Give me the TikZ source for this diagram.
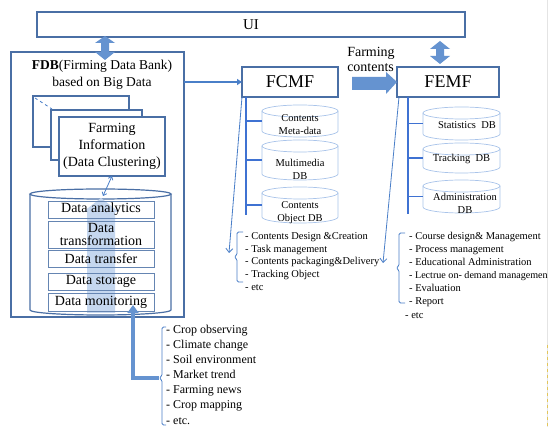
\documentclass[tikz,border=0pt]{standalone}
\usepackage{fontspec}
\setmainfont{Liberation Serif}
\usetikzlibrary{arrows.meta,calc}
\definecolor{boxcol}{HTML}{4A6FA5}
\definecolor{blockcol}{HTML}{6593D0}
\definecolor{palecol}{HTML}{C5D7EF}
\definecolor{colcol}{HTML}{3F72D2}
\definecolor{cylcol}{HTML}{A9C4EA}
\definecolor{thincol}{HTML}{4A7FC8}
\definecolor{edgecol}{HTML}{E4E4E4}
\definecolor{dashcol}{HTML}{E2C65A}
% cylinder outline drawn around an (empty) body node: sides, bottom half, top ellipse
\newcommand\cylaround[4][]{%
  \draw[#1] (#2.north west) -- (#2.south west)
     arc[start angle=180,end angle=0,x radius=#3,y radius=#4] -- (#2.north east);
  \draw[#1] (#2.north) ellipse[x radius=#3,y radius=#4];
}
\begin{document}
\begin{tikzpicture}[x=1pt,y=-1pt,
  frame/.style={draw=boxcol,line width=1.2pt,fill=white,inner sep=0pt,outer sep=0pt},
  fs/.style 2 args={font=\fontsize{#1}{#2}\selectfont},
  databox/.style={draw=boxcol!85,line width=.8pt,minimum width=106pt,inner sep=0pt,outer sep=0pt,fs={14}{13}},
  body/.style={inner sep=0pt,outer sep=0pt},
  cyl/.style={draw=cylcol,line width=.7pt},
  cyllabel/.style={align=center,inner sep=0pt,fs={10.5}{13}},
  colline/.style={draw=colcol,line width=1.3pt},
  conn/.style={draw=thincol,line width=1.4pt,-{Triangle[length=5pt,width=6pt]}},
  thinconn/.style={draw=thincol,line width=.8pt},
  brk/.style={draw=thincol,line width=.8pt,rounded corners=1.5pt},
  listtxt/.style={anchor=base west,inner sep=0pt},
  block/.style={fill=blockcol},
]
\useasboundingbox (0,0) rectangle (549,427);
\fill[white] (0,0) rectangle (549,427);

% page edge rules
\draw[edgecol,line width=.8pt] (547,0) -- (547,427);
\draw[dashcol,dashed,line width=.6pt] (547,345) -- (547,427);

% user interface bar
\node[frame,minimum width=428pt,minimum height=25pt,fs={15}{18}] (ui) at (251,24.5) {UI};

% ---------------- FDB ----------------
\node[frame,line width=2pt,minimum width=173pt,minimum height=265pt] (fdb) at (97.5,184.5) {};
\node[align=center,inner sep=0pt,fs={13.5}{17}] (fdbtitle) at (102,75) {\textbf{FDB}(Firming Data Bank)\\based on Big Data};

% stacked information pages
\node[frame,minimum width=96pt,minimum height=51pt] (page3) at (81,121.5) {};
\node[frame,minimum width=91pt,minimum height=50pt] (page2) at (96.5,135) {};
\draw[thinconn,dashed] ($(page3.north west)+(2,2)$) -- ($(page2.north west)+(1,-1)$);
\node[frame,minimum width=106pt,minimum height=59pt,align=center,fs={14}{17}] (page1) at (112,146.5)
  {Farming\\Information\\(Data Clustering)};

% big data store
\node[body,minimum width=141pt,minimum height=116pt] (store) at (100.5,252) {};
\cylaround[draw=boxcol,line width=1.2pt]{store}{70.5}{5}
\draw[thinconn,{Straight Barb[length=3pt,width=5pt]}-{Straight Barb[length=3pt,width=5pt]}]
  (page1.south) -- ($(store.north)+(2.5,2)$);

% upward data flow
\fill[palecol] (101,198) -- (119,212) -- (115,212) -- (115,313) -- (87,313) -- (87,212) -- (83,212) -- cycle;

\node[databox,minimum height=17pt] (dana) at (101,209.5) {Data analytics};
\node[databox,minimum height=27pt,align=center] (dtrans) at (101,234.5) {Data\\transformation};
\node[databox,minimum height=17pt] (dtransfer) at (101,258.5) {Data transfer};
\node[databox,minimum height=17pt] (dstor) at (101,281.5) {Data storage};
\node[databox,minimum height=18pt] (dmon) at (101,302) {Data monitoring};

% UI <-> FDB
\fill[block] (105,36) -- (115,43) -- (109,43) -- (109,52) -- (115,52) -- (105,60)
  -- (95,52) -- (101,52) -- (101,43) -- (95,43) -- cycle;

% data sources
\foreach \t [count=\i] in {- Crop observing,- Climate change,- Soil environment,- Market trend,
    - Farming news,- Crop mapping,- etc.}
  \node[listtxt,fs={12}{14}] (src\i) at (166,{333.5+15.1*(\i-1)}) {\t};
\draw[brk] (166,327) -- (162,327) -- (162,376) -- (159,378) -- (162,380) -- (162,425) -- (166,425);
\coordinate (srcnub) at (159,378);
\coordinate (montip) at (133,305);
\draw[draw=blockcol,line width=4.5pt,-{Triangle[length=8pt,width=11pt]}] (srcnub) -| (montip);

% ---------------- FCMF ----------------
\node[frame,line width=1.4pt,minimum width=96pt,minimum height=30pt,fs={18}{20}] (fcmf) at (290,82) {FCMF};
\draw[conn] (fdb.east |- fcmf.west) -- (fcmf.west);

\node[body,minimum width=76pt,minimum height=20pt] (cmeta) at (300,121) {};
\node[body,minimum width=76pt,minimum height=28pt] (cmedia) at (300,160) {};
\node[body,minimum width=76pt,minimum height=24pt] (cobj) at (300,205) {};
\cylaround[cyl]{cmeta}{38}{6}
\cylaround[cyl]{cmedia}{38}{6}
\cylaround[cyl]{cobj}{38}{6}
\node[cyllabel] (cmetat) at (300,124.5) {Contents\\Meta-data};
\node[cyllabel] (cmediat) at (300,169.5) {Multimedia\\DB};
\node[cyllabel] (cobjt) at (300,212.5) {Contents\\Object DB};

\coordinate (fcmfcol) at (246,97);
\coordinate (fcmfend) at (246,215);
\draw[colline] (fcmfcol) -- (fcmfend);
\foreach \c in {cmeta,cmedia,cobj}
  \draw[colline] (fcmfcol |- \c.west) -- (\c.west);

\foreach \t [count=\i] in {- Contents Design \&Creation,- Task management,
    - Contents packaging\&Delivery,- Tracking Object,- etc}
  \node[listtxt,fs={10.5}{12}] (cm\i) at (245,{239.5+12.7*(\i-1)}) {\t};
\draw[brk] (243,232) -- (237,232) -- (237,255) -- (234,257) -- (237,259) -- (237,282) -- (243,282);
\coordinate (cmtip) at (229,253);
\draw[thinconn,-{Straight Barb[length=4pt,width=7pt]}] (fcmf.south west) -- (cmtip);

% content hand-over
\node[align=left,inner sep=0pt,fs={14}{15}] (fclabel) at (371,59.5) {Farming\\contents};

% ---------------- FEMF ----------------
\node[frame,line width=1.4pt,minimum width=102pt,minimum height=30pt,fs={18}{20}] (femf) at (448,82) {FEMF};
\fill[block] (352,77) -- (386,77) -- (386,72) -- (femf.west) -- (386,94) -- (386,90) -- (352,90) -- cycle;
\fill[block] (440,41) -- (450,49) -- (444,49) -- (444,56) -- (450,56) -- (440,64)
  -- (430,56) -- (436,56) -- (436,49) -- (430,49) -- cycle;

\node[body,minimum width=77pt,minimum height=21pt] (estat) at (461.5,123.5) {};
\node[body,minimum width=77pt,minimum height=18pt] (etrack) at (461.5,158) {};
\node[body,minimum width=77pt,minimum height=21pt] (eadmin) at (461.5,196.5) {};
\cylaround[cyl]{estat}{38.5}{6}
\cylaround[cyl]{etrack}{38.5}{6}
\cylaround[cyl]{eadmin}{38.5}{6}
\node[cyllabel] (estatt) at (467,125) {Statistics\ \ DB};
\node[cyllabel] (etrackt) at (461.5,159) {Tracking\ \ DB};
\node[cyllabel] (eadmint) at (465,203.5) {Administration\\DB};

\coordinate (femfcol) at (408,97);
\coordinate (femfend) at (408,214);
\draw[colline] (femfcol) -- (femfend);
\foreach \c in {estat,etrack,eadmin}
  \draw[colline] (femfcol |- \c.west) -- (\c.west);

\foreach \t [count=\i] in {- Course design\& Management,- Process management,
    - Educational Administration,- Evaluation,- Report}
  \node[listtxt,fs={10.5}{12}] (em\i) at (409,{239.5+13.1*(\i-1+(\i>3))}) {\t};
\node[listtxt,fs={10.1}{12}] (emlec) at (409,278.8) {- Lectrue on- demand managemen};
\node[listtxt,fs={10.5}{12}] (emetc) at (405,318.5) {- etc};
\draw[brk] (405,233) -- (399,233) -- (399,266) -- (396,268) -- (399,270) -- (399,303) -- (405,303);
\coordinate (emtip) at (383,263);
\draw[thinconn,-{Straight Barb[length=4pt,width=7pt]}] ($(femf.south west)+(2,0)$) -- (emtip);
\end{tikzpicture}
\end{document}
